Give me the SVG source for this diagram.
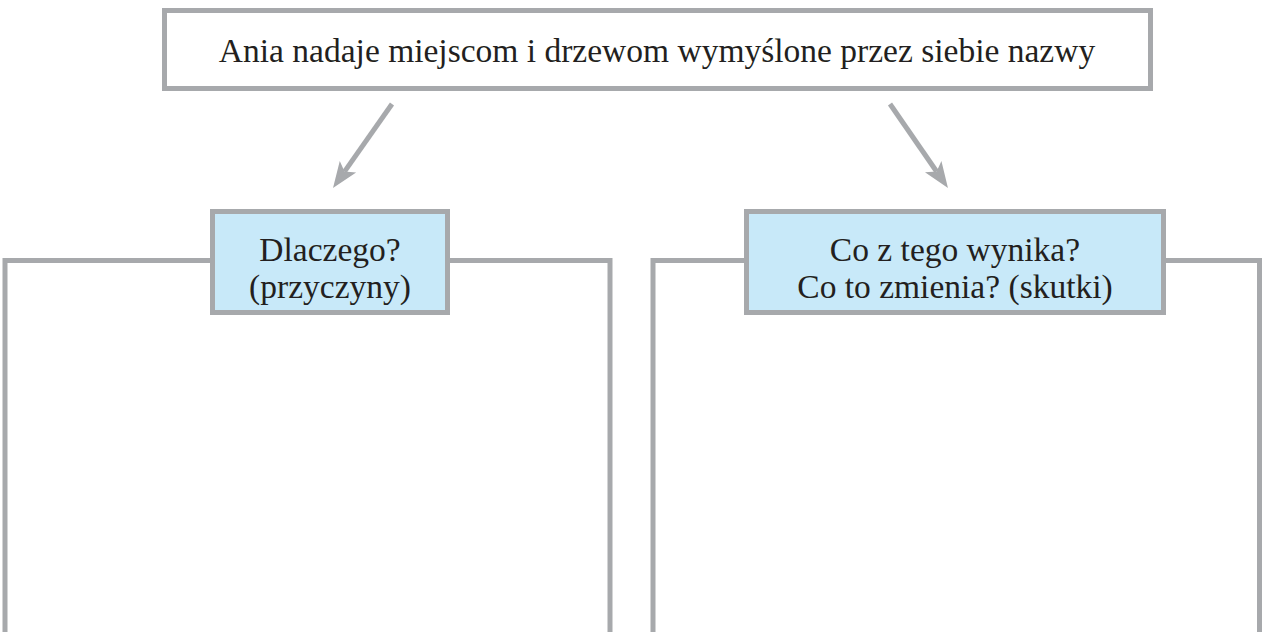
<svg xmlns="http://www.w3.org/2000/svg" width="1262" height="632" viewBox="0 0 1262 632">
<style>
.frame{fill:#ffffff;stroke:#a7a9ac;stroke-width:5}
.label{fill:#c8e9f9;stroke:#a7a9ac;stroke-width:5}
.conn{stroke:#a7a9ac;stroke-width:5;fill:none}
text{font-family:"Liberation Serif","Times New Roman",serif;font-size:33.5px;fill:#231f20;text-anchor:middle}
</style>
<defs>
<marker id="ah" viewBox="-8 -12 30 24" markerWidth="30" markerHeight="24" refX="0" refY="0" orient="auto" markerUnits="userSpaceOnUse">
<path d="M20,0 L-6,-10 L0,0 L-6,10 Z" fill="#a7a9ac"/>
</marker>
</defs>
<rect width="1262" height="632" fill="#ffffff"/>
<g id="top">
<rect class="frame" x="164.5" y="10.5" width="986" height="78"/>
<text x="657" y="62">Ania nadaje miejscom i drzewom wymyślone przez siebie nazwy</text>
</g>
<g id="connectors">
<line class="conn" x1="392" y1="104" x2="344.5" y2="171.6" marker-end="url(#ah)"/>
<line class="conn" x1="890" y1="104" x2="936.6" y2="171.5" marker-end="url(#ah)"/>
</g>
<g id="left">
<path class="conn" d="M5,640 L5,260.5 L610,260.5 L610,640"/>
<rect class="label" x="212.5" y="211.5" width="235" height="101"/>
<text x="330" y="261">Dlaczego?</text>
<text x="330" y="298">(przyczyny)</text>
</g>
<g id="right">
<path class="conn" d="M653,640 L653,260.5 L1259.5,260.5 L1259.5,640"/>
<rect class="label" x="746.5" y="211.5" width="417" height="101"/>
<text x="955" y="261">Co z tego wynika?</text>
<text x="955" y="298">Co to zmienia? (skutki)</text>
</g>
</svg>
